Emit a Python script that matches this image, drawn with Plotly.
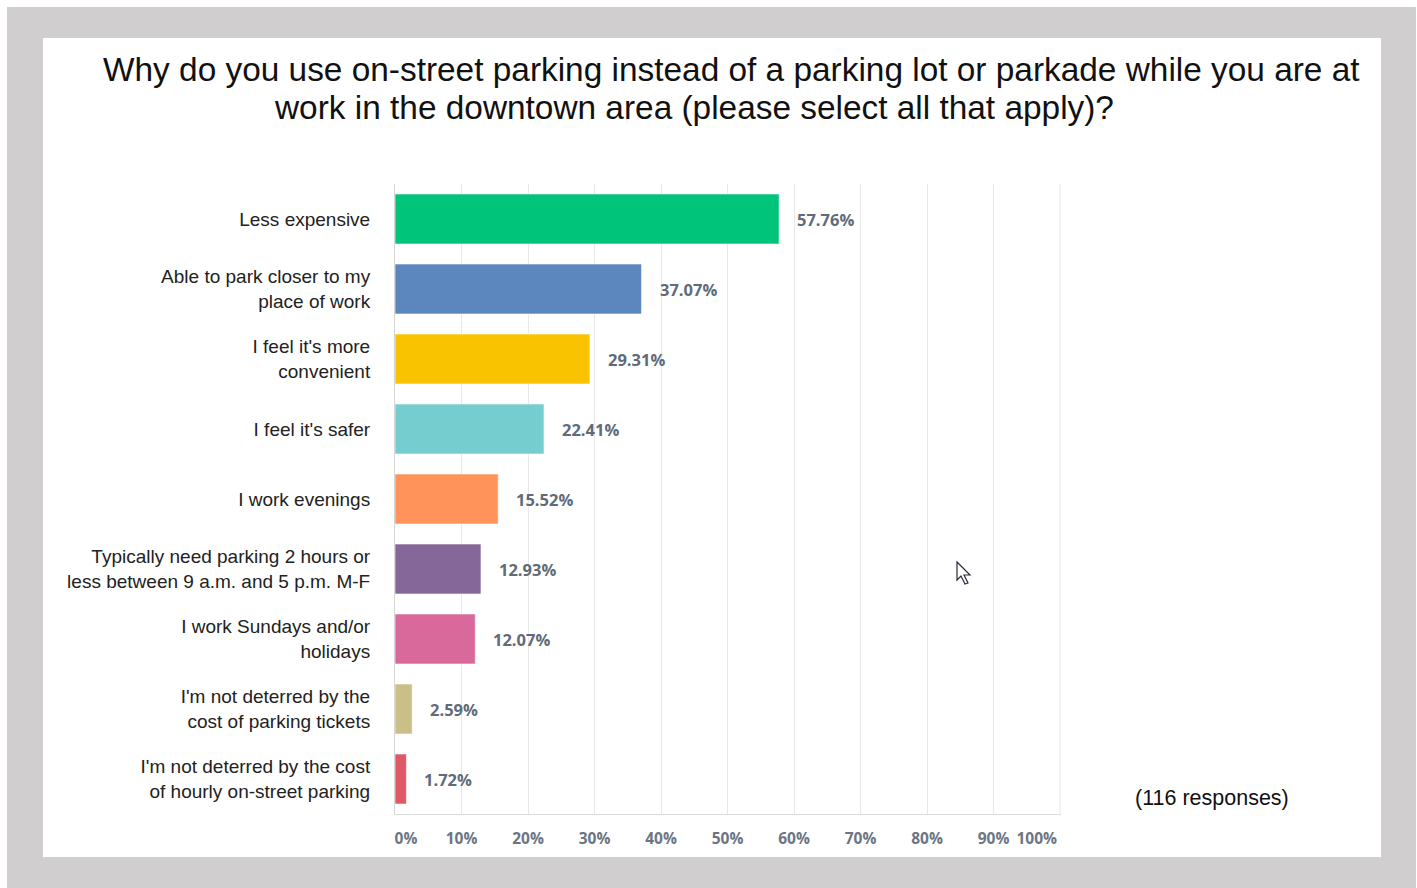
import plotly.graph_objects as go

categories = [
    "Less expensive",
    "Able to park closer to my<br>place of work",
    "I feel it's more<br>convenient",
    "I feel it's safer",
    "I work evenings",
    "Typically need parking 2 hours or<br>less between 9 a.m. and 5 p.m. M-F",
    "I work Sundays and/or<br>holidays",
    "I'm not deterred by the<br>cost of parking tickets",
    "I'm not deterred by the cost<br>of hourly on-street parking",
]
values = [57.76, 37.07, 29.31, 22.41, 15.52, 12.93, 12.07, 2.59, 1.72]
colors = ["#00c47a", "#5b87be", "#f9c300", "#76cdd0", "#ff935a",
          "#866799", "#d9699a", "#cbbf88", "#e05865"]
tick_vals = [0, 10, 20, 30, 40, 50, 60, 70, 80, 90, 100]
tick_text = ["0%", "10%", "20%", "30%", "40%", "50%", "60%", "70%", "80%", "90%", "100%"]
title_line1 = "Why do you use on-street parking instead of a parking lot or parkade while you are at"
title_line2 = "work in the downtown area (please select all that apply)?"
responses = "(116 responses)"

W, H = 1417, 888
L, R, T, B = 395, 1061, 184, 814


def px(x):
    return (x - L) / (R - L)


def py(y):
    return (B - y) / (B - T)


# label positions: end labels are nudged inside the axis like the original
label_pos = list(tick_vals)
label_pos[0] = 1.65
label_pos[-1] = 96.5

fig = go.Figure(go.Bar(
    x=values, y=categories, orientation="h",
    marker=dict(color=colors, line=dict(color="rgba(255,255,255,0.6)", width=1)),
    hoverinfo="skip",
))

annotations = []
for c, v in zip(categories, values):
    annotations.append(dict(
        x=v, y=c, xref="x", yref="y", text=f"{v:.2f}%", showarrow=False,
        xanchor="left", xshift=16,
        font=dict(family="Open Sans", size=16.5, color="#5f6b7a", weight="bold"),
    ))
annotations += [
    dict(x=px(731), y=py(70), xref="paper", yref="paper", text=title_line1,
         showarrow=False, xanchor="center", yanchor="middle",
         font=dict(family="Liberation Sans, Arial", size=33.4, color="#111111")),
    dict(x=px(694), y=py(108), xref="paper", yref="paper", text=title_line2,
         showarrow=False, xanchor="center", yanchor="middle",
         font=dict(family="Liberation Sans, Arial", size=33.4, color="#111111")),
    dict(x=px(1133), y=py(798), xref="paper", yref="paper", text=responses,
         showarrow=False, xanchor="left", yanchor="middle",
         font=dict(family="Liberation Sans, Arial", size=21.5, color="#111111")),
]

cursor = "M {} {} L {} {} L {} {} L {} {} L {} {} L {} {} L {} {} Z".format(
    px(957), py(562), px(957), py(580), px(961), py(576), px(965), py(584),
    px(968), py(583), px(964), py(575), px(970), py(575))

shapes = [
    dict(type="rect", xref="paper", yref="paper", x0=px(7), x1=px(1416), y0=py(7), y1=py(888),
         fillcolor="#d0cece", line=dict(width=0), layer="below"),
    dict(type="rect", xref="paper", yref="paper", x0=px(43), x1=px(1381), y0=py(38), y1=py(857),
         fillcolor="#ffffff", line=dict(width=0), layer="below"),
    dict(type="line", xref="x", yref="paper", x0=tick_vals[-1], x1=tick_vals[-1], y0=0, y1=1,
         line=dict(color="#e8e8e8", width=1), layer="below"),
    dict(type="path", xref="paper", yref="paper", path=cursor,
         fillcolor="#ffffff", line=dict(color="#2a2a3a", width=1.2), layer="above"),
]

fig.update_layout(
    width=W, height=H,
    margin=dict(l=L, r=W - R, t=T, b=H - B, autoexpand=False),
    paper_bgcolor="#ffffff", plot_bgcolor="#ffffff",
    showlegend=False, bargap=0.285,
    annotations=annotations, shapes=shapes,
    xaxis=dict(range=[0, 100.15], tickvals=label_pos, ticktext=tick_text,
               showgrid=False,
               minor=dict(tickvals=tick_vals, showgrid=True, gridcolor="#e8e8e8",
                          gridwidth=1, ticks=""),
               showline=True, linecolor="#dcdcdc", linewidth=1,
               zeroline=False, ticks="", ticklabelstandoff=10,
               tickfont=dict(family="Open Sans", size=15.5, color="#6b7585", weight="bold"),
               fixedrange=True),
    yaxis=dict(autorange="reversed", showgrid=False, showline=True,
               linecolor="#d6d6d6", linewidth=1, ticks="", ticklabelstandoff=20,
               tickfont=dict(family="Liberation Sans, Arial", size=19, color="#222222"),
               fixedrange=True),
)

fig.write_html("out.html", config={"displayModeBar": False},
               post_script="document.body.style.margin='0';")
